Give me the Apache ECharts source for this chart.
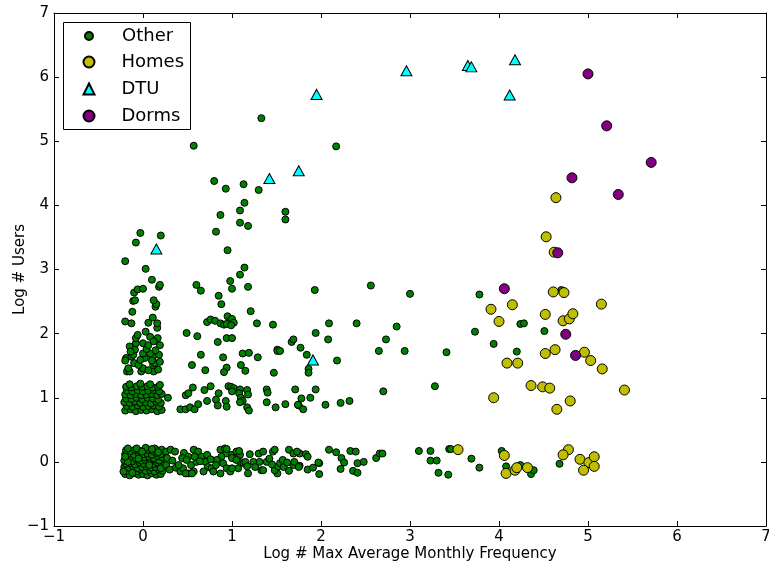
<!DOCTYPE html>
<html>
<head>
<meta charset="utf-8">
<script src="https://cdn.jsdelivr.net/npm/echarts@6/dist/echarts.min.js"></script>
<style>
html,body{margin:0;padding:0;background:#fff;}
#chart{width:769px;height:569px;}
</style>
</head>
<body>
<div id="chart"></div>
<script>
// ---------------- DATA ----------------
const seriesNames = ['Other', 'Homes', 'DTU', 'Dorms'];
const xAxisTitle = 'Log # Max Average Monthly Frequency';
const yAxisTitle = 'Log # Users';

// Other: dense cluster near (0, 0)
const otherZeroCluster = [
[-0.20,-0.19],[-0.15,-0.21],[-0.10,-0.18],[-0.05,-0.20],[0.00,-0.19],[0.05,-0.21],[0.10,-0.18],[0.15,-0.20],[0.20,-0.19],
[-0.18,-0.14],[-0.12,-0.13],[-0.07,-0.15],[-0.02,-0.12],[0.03,-0.14],[0.08,-0.13],[0.13,-0.15],[0.18,-0.12],[0.22,-0.14],
[-0.21,-0.08],[-0.16,-0.09],[-0.11,-0.07],[-0.06,-0.10],[-0.01,-0.08],[0.04,-0.07],[0.09,-0.09],[0.14,-0.08],[0.19,-0.06],
[-0.19,-0.03],[-0.14,-0.02],[-0.09,-0.04],[-0.04,-0.01],[0.01,-0.03],[0.06,-0.02],[0.11,-0.04],[0.16,-0.01],[0.21,-0.03],
[-0.21,0.02],[-0.16,0.03],[-0.12,0.01],[-0.07,0.04],[-0.02,0.02],[0.03,0.03],[0.08,0.01],[0.13,0.04],[0.18,0.02],
[-0.18,0.07],[-0.13,0.08],[-0.08,0.06],[-0.03,0.09],[0.02,0.07],[0.07,0.08],[0.12,0.06],[0.17,0.09],[0.22,0.07],
[-0.20,0.12],[-0.15,0.13],[-0.10,0.11],[-0.05,0.14],[0.00,0.12],[0.05,0.13],[0.10,0.11],[0.15,0.14],[0.20,0.12],
[-0.19,0.18],[-0.14,0.17],[-0.09,0.19],[-0.04,0.17],[0.01,0.18],[0.06,0.19],[0.11,0.17],[0.16,0.18],[0.21,0.19],
[-0.17,0.21],[-0.07,0.21],[0.03,0.22],[0.13,0.21],
[-0.22,-0.15],[-0.17,0.00],[-0.05,0.05],[0.07,-0.05],[0.17,0.15],[-0.12,-0.17],[0.10,0.20],[0.20,-0.10],[-0.01,0.16],[-0.20,0.08]
];

// Other: spread along y = 0, x > 0.25
const otherZeroSpread = [
[0.26,0.16],[0.31,0.19],[0.36,0.16],[0.27,0.06],[0.26,-0.05],[0.37,-0.09],[0.46,0.14],[0.51,0.08],[0.57,0.19],[0.62,0.16],
[0.44,0.06],[0.49,0.03],[0.54,-0.05],[0.60,0.00],[0.66,0.08],[0.70,0.00],[0.73,-0.08],[0.42,-0.15],[0.51,-0.18],[0.57,-0.15],
[0.68,-0.15],[0.77,-0.10],[0.79,-0.15],[0.87,0.19],[0.92,0.21],[0.94,0.13],[0.88,0.08],[0.83,0.03],[0.90,-0.02],[0.94,-0.10],
[0.87,-0.18],[1.00,0.11],[1.05,0.16],[1.09,0.11],[1.09,0.00],[1.13,-0.02],[1.07,-0.10],[1.18,-0.18],[1.24,0.00],[1.30,0.13],
[1.35,0.16],[1.33,-0.13],[1.39,0.00],[1.46,0.16],[1.48,0.19],[1.51,-0.18],[1.48,-0.13],[1.45,-0.04],
[0.45,-0.10],[0.58,0.08],[0.64,0.01],[0.72,0.11],[0.94,0.20],[0.98,-0.15],[1.00,-0.10],[1.00,0.06],[1.05,0.03],[1.08,0.17],
[1.15,0.00],[1.17,-0.07],[1.20,0.12],[1.26,-0.08],[1.31,0.00],[1.35,-0.13],[1.42,0.05],[1.52,-0.07],[0.33,0.02],[0.40,-0.05],
[0.30,-0.12],[0.48,-0.18],[0.55,-0.18],[0.82,-0.05],[0.76,0.04],
[1.54,-0.02],[1.57,0.03],[1.58,-0.08],[1.62,-0.01],[1.64,0.19],[1.64,-0.14],[1.69,0.13],[1.69,-0.05],[1.70,0.00],[1.76,0.13],
[1.76,-0.06],[1.73,0.16],[1.75,-0.08],[1.83,0.12],[1.85,0.08],[1.85,-0.12],[1.91,-0.09],[1.98,-0.02],[1.98,-0.19],[2.09,0.19],
[2.17,0.15],[2.23,0.06],[2.26,-0.01],[2.22,-0.11],[2.33,0.17],[2.39,0.16],[2.41,-0.02],[2.48,0.00],[2.36,-0.14],[2.41,-0.17],
[2.62,0.06],[2.66,0.13],[2.69,0.13],[3.10,0.17],[3.23,0.17],[3.23,0.02],[3.30,0.02],[3.32,-0.17],[3.43,-0.20],[3.44,0.20],
[3.46,0.20],[3.69,0.05],[3.78,-0.09],[4.03,0.17],[4.08,-0.07],[4.24,-0.05],[4.36,-0.19],[4.39,-0.13],[4.68,-0.03],[1.97,-0.01]
];

// Other: dense cluster near (0, 1)
const otherOneCluster = [
[-0.20,0.80],[-0.14,0.82],[-0.08,0.79],[-0.02,0.81],[0.04,0.80],[0.10,0.82],[0.16,0.79],[0.21,0.81],
[-0.18,0.87],[-0.12,0.86],[-0.06,0.88],[0.00,0.86],[0.06,0.87],[0.12,0.88],[0.18,0.86],
[-0.21,0.93],[-0.15,0.92],[-0.09,0.94],[-0.03,0.92],[0.03,0.93],[0.09,0.91],[0.15,0.94],[0.20,0.92],
[-0.19,0.99],[-0.13,0.98],[-0.07,1.00],[-0.01,0.98],[0.05,1.00],[0.11,0.99],[0.17,0.97],
[-0.20,1.05],[-0.14,1.04],[-0.08,1.06],[-0.02,1.04],[0.04,1.05],[0.10,1.06],[0.16,1.04],[0.21,1.06],
[-0.18,1.11],[-0.12,1.10],[-0.06,1.12],[0.00,1.10],[0.06,1.11],[0.12,1.12],[0.18,1.10],
[-0.19,1.17],[-0.13,1.16],[-0.07,1.18],[-0.01,1.17],[0.05,1.18],[0.11,1.16],[0.17,1.17],
[-0.15,1.21],[-0.03,1.22],[0.08,1.21],[0.19,1.20]
];

// Other: spread along y = 1, x > 0.25
const otherOneSpread = [
[0.28,1.00],[0.42,0.82],[0.48,0.82],[0.53,0.85],[0.58,0.82],[0.48,1.04],[0.51,1.07],[0.56,1.16],[0.62,0.90],[0.69,1.12],
[0.76,1.18],[0.72,0.95],[0.82,0.97],[0.85,1.07],[0.84,0.88],[0.93,0.95],[0.94,0.86],[0.96,1.18],[0.99,1.17],[1.02,1.15],
[1.00,1.10],[1.09,1.13],[1.08,1.07],[1.10,1.00],[1.12,0.95],[1.09,0.93],[1.17,1.12],[1.18,1.05],[1.17,0.85],[1.19,0.80],
[1.39,1.13],[1.40,1.08],[1.39,0.93],[1.49,0.85],[1.60,0.90],[1.71,1.13],[1.75,0.88],[1.78,0.99],[1.94,1.13],[1.88,1.00],
[1.74,0.89],[1.80,0.82],[2.05,0.89],[2.22,0.92],[2.32,0.95],[2.70,1.10],[3.28,1.18]
];

// Other: points near x = 0 between y 1.4 and 2
const otherLowColumn = [
[-0.18,1.41],[-0.15,1.41],[-0.02,1.41],[0.12,1.41],[-0.165,1.46],[0.00,1.46],[0.06,1.43],[0.17,1.44],
[-0.10,1.54],[-0.05,1.51],[0.115,1.51],[0.135,1.54],[0.19,1.56],[-0.19,1.62],[-0.13,1.64],[0.02,1.62],
[0.11,1.64],[-0.11,1.67],[0.00,1.69],[0.08,1.69],[0.18,1.67],[-0.09,1.75],[0.04,1.76],[0.14,1.74],
[-0.08,1.85],[0.00,1.85],[0.06,1.82],[0.19,1.82],[-0.15,1.80],[-0.08,1.93],[0.08,1.95],[0.165,1.93],
[-0.06,1.98],[-0.20,1.58],[0.10,1.58],[-0.03,1.59],[-0.14,1.72],[0.12,1.88]
];

// Other: points near x = 0 above y = 2
const otherHighColumn = [
[0.03,2.03],[0.16,2.09],[-0.20,2.19],[-0.13,2.16],[0.06,2.17],[0.16,2.16],[0.11,2.25],[-0.12,2.34],[0.14,2.42],[0.15,2.46],
[-0.11,2.51],[-0.09,2.52],[0.12,2.52],[-0.10,2.64],[-0.06,2.69],[0.00,2.70],[0.18,2.73],[0.19,2.76],[0.10,2.84],[0.03,3.01],
[-0.20,3.13],[-0.08,3.42],[-0.03,3.57],[0.20,3.53]
];

// Other: scattered points
const otherScattered = [
[0.49,2.01],[0.61,1.96],[0.60,2.76],[0.65,2.67],[0.80,4.38],[0.93,4.26],[1.13,4.33],[1.30,4.24],[1.14,4.04],[1.09,3.92],
[0.87,3.85],[1.09,3.73],[1.18,3.68],[0.82,3.59],[0.95,3.30],[1.14,3.03],[1.09,2.92],[0.98,2.82],[1.00,2.70],[1.18,2.73],
[0.85,2.59],[0.88,2.46],[1.21,2.35],[0.72,2.18],[0.76,2.22],[0.81,2.20],[0.87,2.16],[0.91,2.14],[0.95,2.27],[0.97,2.19],
[1.00,2.23],[1.02,2.17],[0.94,2.15],[0.99,2.13],[1.28,2.16],[1.46,2.14],[0.84,1.87],[0.94,1.93],[1.00,1.93],[1.60,3.90],
[1.60,3.78],[1.67,1.87],[1.69,1.91],[1.51,1.75],[0.65,1.67],[0.55,1.51],[0.70,1.43],[0.90,1.63],[0.94,1.47],[0.91,1.40],
[1.12,1.69],[1.19,1.70],[1.10,1.51],[1.15,1.42],[1.29,1.63],[1.51,1.73],[1.47,1.39],[1.93,2.68],[2.56,2.75],[3.00,2.62],
[3.78,2.61],[2.09,2.16],[2.40,2.16],[2.85,2.11],[1.94,2.01],[2.08,1.91],[2.73,1.91],[1.54,1.73],[1.77,1.78],[1.84,1.67],
[2.65,1.73],[2.94,1.73],[3.41,1.71],[3.73,2.03],[3.94,1.84],[4.24,2.15],[4.28,2.16],[4.20,1.72],[4.51,2.04],[1.86,1.45],
[1.86,1.39],[2.18,1.58],[4.70,2.68],[0.57,4.93],[1.33,5.36],[2.17,4.92]
];

const homes = [
[4.64,4.12],[4.53,3.51],[4.62,3.27],[4.61,2.65],[4.73,2.64],[3.91,2.38],[4.15,2.45],[4.00,2.19],[4.52,2.30],[4.72,2.20],
[4.79,2.23],[4.83,2.31],[5.15,2.46],[4.09,1.54],[4.21,1.54],[4.52,1.69],[4.63,1.75],[4.96,1.71],[5.03,1.58],[5.16,1.45],
[4.36,1.19],[4.49,1.17],[4.57,1.15],[3.94,1.00],[4.65,0.82],[4.80,0.95],[5.41,1.12],[3.54,0.19],[4.06,0.10],[4.08,-0.18],
[4.18,-0.13],[4.20,-0.09],[4.32,-0.09],[4.78,0.19],[4.72,0.11],[4.91,0.04],[5.01,-0.01],[5.07,0.08],[5.07,-0.07],[4.95,-0.13]
];

const dtu = [
[0.15,3.32],[1.42,4.42],[1.75,4.54],[1.95,5.73],[2.96,6.10],[3.65,6.18],[3.69,6.16],[4.12,5.72],[4.18,6.27],[1.91,1.59]
];

const dorms = [
[5.00,6.05],[5.21,5.24],[5.71,4.67],[4.82,4.43],[5.34,4.17],[4.66,3.26],[4.06,2.70],[4.75,1.99],[4.86,1.66]
];

const other = [].concat(otherZeroCluster, otherZeroSpread, otherOneCluster, otherOneSpread,
  otherLowColumn, otherHighColumn, otherScattered);

// ---------------- CHART ----------------
const FONT = 'DejaVu Sans';
const minus = v => String(v).replace('-', '\u2212');
const chart = echarts.init(document.getElementById('chart'), null, {renderer: 'canvas'});

const edge = {borderColor: '#000', borderWidth: 1, opacity: 1};
const axisCommon = {
  type: 'value', min: -1, max: 7, interval: 1,
  splitLine: {show: false},
  axisLine: {show: true, onZero: false, lineStyle: {color: '#000', width: 1}},
  axisTick: {show: true, inside: true, length: 5, lineStyle: {color: '#000'}}
};

chart.setOption({
  animation: false,
  backgroundColor: '#fff',
  textStyle: {fontFamily: FONT},
  grid: {left: 54, top: 13, width: 712, height: 513, containLabel: false, outerBoundsMode: 'none'},
  xAxis: [
    Object.assign({}, axisCommon, {
      position: 'bottom',
      name: xAxisTitle, nameLocation: 'middle', nameGap: 21, nameMoveOverlap: false,
      nameTextStyle: {fontFamily: FONT, fontSize: 15, color: '#000'},
      axisLabel: {fontFamily: FONT, fontSize: 15, color: '#000', margin: 4, formatter: minus}
    }),
    Object.assign({}, axisCommon, {position: 'top', axisLabel: {show: false}})
  ],
  yAxis: [
    Object.assign({}, axisCommon, {
      position: 'left',
      name: yAxisTitle, nameLocation: 'middle', nameGap: 26, nameMoveOverlap: false,
      nameTextStyle: {fontFamily: FONT, fontSize: 15, color: '#000'},
      axisLabel: {fontFamily: FONT, fontSize: 15, color: '#000', margin: 5, formatter: minus}
    }),
    Object.assign({}, axisCommon, {position: 'right', axisLabel: {show: false}})
  ],
  graphic: [{
    type: 'rect', z: 5,
    shape: {x: 63.5, y: 22.5, width: 127, height: 107},
    style: {fill: '#fff', stroke: '#000', lineWidth: 1}
  }],
  legend: [
    {
      data: [seriesNames[0]], orient: 'vertical', left: 84, top: 27, padding: 0, z: 10,
      itemWidth: 8, itemHeight: 8, itemGap: 9,
      textStyle: {fontFamily: FONT, fontSize: 18, lineHeight: 18, color: '#000', padding: [0, 0, 0, 24]}
    },
    {
      data: seriesNames.slice(1), orient: 'vertical', left: 82.5, top: 53, padding: 0, z: 10,
      itemWidth: 11, itemHeight: 11, itemGap: 9,
      textStyle: {fontFamily: FONT, fontSize: 18, lineHeight: 18, color: '#000', padding: [0, 0, 0, 22]}
    }
  ],
  series: [
    {name: seriesNames[0], type: 'scatter', data: other, symbol: 'circle', symbolSize: 7,
     itemStyle: Object.assign({color: '#008000'}, edge)},
    {name: seriesNames[1], type: 'scatter', data: homes, symbol: 'circle', symbolSize: 10,
     itemStyle: Object.assign({color: '#bfbf00'}, edge)},
    {name: seriesNames[2], type: 'scatter', data: dtu, symbol: 'triangle', symbolSize: [11, 10],
     itemStyle: Object.assign({color: '#00ffff'}, edge)},
    {name: seriesNames[3], type: 'scatter', data: dorms, symbol: 'circle', symbolSize: 10,
     itemStyle: Object.assign({color: '#800080'}, edge)}
  ]
});
</script>
</body>
</html>
